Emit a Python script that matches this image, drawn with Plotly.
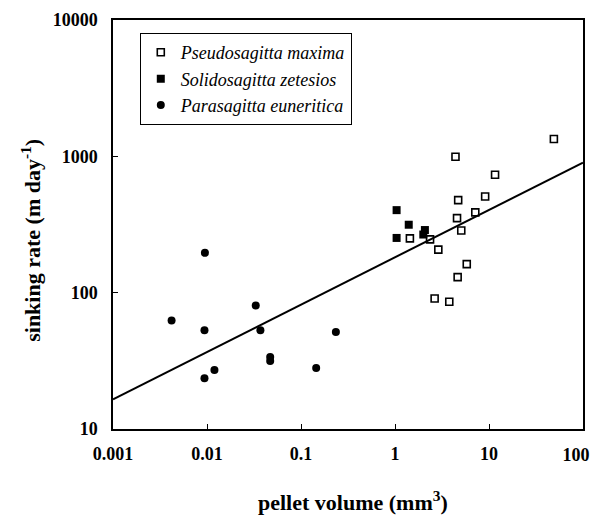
import plotly.graph_objects as go

# Pseudosagitta maxima (open squares)
pm_x = [49, 4.4, 11.6, 9.1, 4.7, 7.15, 4.57, 5.07, 1.44, 2.36, 2.89, 5.8, 4.64, 2.64, 3.78]
pm_y = [1340, 993, 733, 508, 477, 388, 352, 286, 250, 246, 207, 162, 130, 90.6, 85.7]

# Solidosagitta zetesios (filled squares)
sz_x = [1.04, 1.40, 1.04, 2.08, 2.0]
sz_y = [403, 315, 252, 288, 267]

# Parasagitta euneritica (filled circles)
pe_x = [0.0042, 0.0095, 0.0094, 0.0094, 0.012, 0.033, 0.037, 0.047, 0.047, 0.145, 0.235]
pe_y = [62.5, 196, 53, 23.6, 27.1, 80.5, 53, 33.8, 31.6, 28, 51.5]

# regression line end points
fit_x = [0.001, 100]
fit_y = [16.5, 900]

x_ticks = [0.001, 0.01, 0.1, 1, 10, 100]
x_ticklabels = ["0.001", "0.01", "0.1", "1", "10", "100"]
y_ticks = [10, 100, 1000, 10000]
y_ticklabels = ["10", "100", "1000", "10000"]

names = ["Pseudosagitta maxima", "Solidosagitta zetesios", "Parasagitta euneritica"]

fig = go.Figure()
fig.add_trace(go.Scatter(x=fit_x, y=fit_y, mode="lines",
                         line=dict(color="black", width=2), showlegend=False,
                         hoverinfo="skip"))
# invisible helper so the overlay axis (last tick label, nudged inward) is drawn
fig.add_trace(go.Scatter(x=fit_x, y=fit_y, mode="lines", xaxis="x2", opacity=0,
                         line=dict(color="black", width=0), showlegend=False,
                         hoverinfo="skip"))
fig.add_trace(go.Scatter(x=pm_x, y=pm_y, mode="markers", name=names[0],
                         marker=dict(symbol="square-open", size=7, color="black",
                                     line=dict(width=1.6, color="black"))))
fig.add_trace(go.Scatter(x=sz_x, y=sz_y, mode="markers", name=names[1],
                         marker=dict(symbol="square", size=8, color="black")))
fig.add_trace(go.Scatter(x=pe_x, y=pe_y, mode="markers", name=names[2],
                         marker=dict(symbol="circle", size=8, color="black")))

tickfont = dict(family="Liberation Serif", size=18, color="black", weight="bold")

fig.update_layout(
    width=595, height=516,
    margin=dict(l=113, r=12, t=20, b=87),
    paper_bgcolor="white", plot_bgcolor="white",
    showlegend=True,
    legend=dict(x=0.057, y=0.968, xanchor="left", yanchor="top",
                bgcolor="white", bordercolor="black", borderwidth=1,
                font=dict(family="Liberation Serif", size=18, color="black",
                          style="italic"),
                tracegroupgap=0),
    xaxis=dict(type="log", range=[-3, 2], tickvals=x_ticks[:-1], ticktext=x_ticklabels[:-1],
               ticks="inside", ticklen=5, tickwidth=1.2, tickcolor="black",
               showline=True, linecolor="black", linewidth=1.5, mirror=True,
               showgrid=False, zeroline=False, tickfont=tickfont,
               ticklabelstandoff=8, automargin=False),
    xaxis2=dict(type="log", range=[-3, 2], overlaying="x", anchor="y", side="bottom",
                tickvals=x_ticks[-1:], ticktext=x_ticklabels[-1:],
                ticks="", showline=False, showgrid=False, zeroline=False,
                tickfont=tickfont, ticklabelstandoff=13, ticklabelshift=-7,
                automargin=False, ticklabeloverflow="allow"),
    yaxis=dict(type="log", range=[1, 4], tickvals=y_ticks, ticktext=y_ticklabels,
               ticks="inside", ticklen=5, tickwidth=1.2, tickcolor="black",
               showline=True, linecolor="black", linewidth=1.5, mirror=True,
               showgrid=False, zeroline=False, tickfont=tickfont,
               ticklabelstandoff=10, automargin=False),
    annotations=[
        dict(text="pellet volume (mm<sup>3</sup>)", xref="paper", yref="paper",
             x=0.51, y=-0.214, xanchor="center", yanchor="bottom", showarrow=False,
             font=dict(family="Liberation Serif", size=22, color="black", weight="bold")),
        dict(text="sinking rate (m day<sup>-1</sup>)", xref="paper", yref="paper",
             x=-0.175, y=0.462, xanchor="center", yanchor="middle", showarrow=False,
             textangle=-90,
             font=dict(family="Liberation Serif", size=22, color="black", weight="bold")),
    ],
)

fig.write_html("out.html")
